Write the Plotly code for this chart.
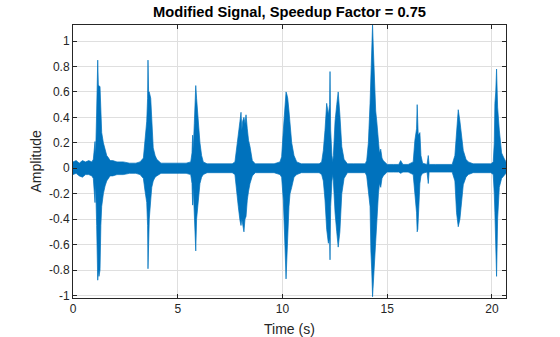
import plotly.graph_objects as go

# Envelope of the waveform: time (s), upper and lower amplitude
time_s = [
    0.00, 0.15, 0.30, 0.45, 0.60, 0.75, 0.90,
    0.97, 1.05, 1.08, 1.13, 1.18, 1.21, 1.24, 1.29, 1.33, 1.37, 1.45, 1.53, 1.61, 1.70, 1.77,
    1.90, 2.10, 2.40, 2.70, 3.00, 3.20,
    3.36, 3.44, 3.52, 3.56, 3.58, 3.61, 3.64, 3.71, 3.76, 3.83, 3.92, 4.00,
    4.20, 4.50, 4.80, 5.10, 5.40,
    5.62, 5.68, 5.71, 5.74, 5.79, 5.83, 5.86, 5.90, 5.98, 6.06, 6.14, 6.22,
    6.40, 6.70, 7.00, 7.30, 7.60,
    7.73, 7.81, 7.89, 7.97, 8.02, 8.06, 8.10, 8.16, 8.21, 8.26, 8.32, 8.38, 8.45, 8.56,
    8.70, 9.00, 9.30, 9.60,
    9.88, 9.96, 10.04, 10.12, 10.17, 10.21, 10.25, 10.31, 10.36, 10.44, 10.55, 10.68,
    10.90, 11.20, 11.50, 11.75,
    11.87, 11.95, 12.03, 12.11, 12.19, 12.25, 12.27, 12.30, 12.36, 12.40, 12.43, 12.51, 12.59, 12.66, 12.74, 12.83, 12.94,
    13.10, 13.40, 13.70, 13.95,
    14.02, 14.10, 14.18, 14.22, 14.26, 14.30, 14.34, 14.37, 14.42, 14.45, 14.50, 14.58, 14.63, 14.69, 14.75, 14.81,
    15.00, 15.30, 15.55, 15.64, 15.75, 16.00,
    16.24, 16.32, 16.40, 16.43, 16.46, 16.48, 16.56, 16.61, 16.69,
    16.90, 16.96, 17.00,
    17.30, 17.60, 17.90, 18.10,
    18.23, 18.31, 18.39, 18.47, 18.55, 18.63, 18.76, 18.87,
    19.10, 19.40, 19.70, 19.95,
    20.06, 20.11, 20.14, 20.18, 20.22, 20.27, 20.35, 20.46, 20.57, 20.67,
]
upper = [
    0.05, 0.06, 0.04, 0.06, 0.05, 0.06, 0.05,
    0.07, 0.21, 0.10, 0.45, 0.85, 0.65, 0.65, 0.64, 0.40, 0.28, 0.20, 0.14, 0.10, 0.08, 0.06,
    0.06, 0.05, 0.05, 0.04, 0.04, 0.05,
    0.08, 0.20, 0.37, 0.55, 0.85, 0.60, 0.60, 0.55, 0.37, 0.16, 0.10, 0.07,
    0.04, 0.04, 0.04, 0.04, 0.04,
    0.05, 0.12, 0.26, 0.15, 0.35, 0.58, 0.65, 0.55, 0.34, 0.20, 0.10, 0.05,
    0.035, 0.035, 0.035, 0.035, 0.035,
    0.05, 0.17, 0.30, 0.37, 0.44, 0.30, 0.37, 0.40, 0.35, 0.42, 0.31, 0.22, 0.17, 0.06,
    0.035, 0.035, 0.035, 0.035,
    0.05, 0.09, 0.30, 0.54, 0.60, 0.58, 0.55, 0.45, 0.37, 0.20, 0.10, 0.05,
    0.035, 0.035, 0.035, 0.035,
    0.05, 0.14, 0.30, 0.51, 0.42, 0.50, 0.76, 0.30, 0.10, 0.05, 0.10, 0.37, 0.50, 0.60, 0.42, 0.17, 0.07,
    0.035, 0.035, 0.035, 0.035,
    0.06, 0.20, 0.51, 0.70, 0.90, 1.13, 0.93, 0.75, 0.61, 0.45, 0.37, 0.17, 0.12, 0.15, 0.08, 0.06,
    0.03, 0.03, 0.03, 0.06, 0.03, 0.03,
    0.05, 0.22, 0.31, 0.50, 0.30, 0.26, 0.28, 0.10, 0.04,
    0.03, 0.10, 0.03,
    0.03, 0.03, 0.03, 0.03,
    0.10, 0.30, 0.46, 0.37, 0.25, 0.14, 0.07, 0.05,
    0.035, 0.035, 0.035, 0.035,
    0.05, 0.20, 0.51, 0.60, 0.78, 0.48, 0.30, 0.12, 0.08, 0.05,
]
lower = [
    -0.05, -0.04, -0.06, -0.07, -0.05, -0.05, -0.06,
    -0.08, -0.27, -0.12, -0.45, -0.88, -0.80, -0.85, -0.80, -0.45, -0.30, -0.20, -0.14, -0.10, -0.08, -0.06,
    -0.06, -0.05, -0.05, -0.04, -0.04, -0.05,
    -0.08, -0.18, -0.27, -0.45, -0.79, -0.60, -0.40, -0.25, -0.15, -0.10, -0.07, -0.06,
    -0.04, -0.04, -0.04, -0.04, -0.04,
    -0.05, -0.12, -0.29, -0.15, -0.40, -0.50, -0.65, -0.40, -0.25, -0.12, -0.07, -0.05,
    -0.035, -0.035, -0.035, -0.035, -0.035,
    -0.05, -0.15, -0.30, -0.41, -0.45, -0.40, -0.41, -0.50, -0.40, -0.38, -0.25, -0.18, -0.12, -0.06,
    -0.035, -0.035, -0.035, -0.035,
    -0.05, -0.07, -0.25, -0.62, -0.87, -0.70, -0.55, -0.30, -0.20, -0.15, -0.07, -0.05,
    -0.035, -0.035, -0.035, -0.035,
    -0.05, -0.10, -0.25, -0.48, -0.59, -0.55, -0.72, -0.30, -0.10, -0.05, -0.10, -0.35, -0.50, -0.62, -0.50, -0.20, -0.08,
    -0.035, -0.035, -0.035, -0.035,
    -0.06, -0.20, -0.30, -0.65, -0.80, -1.01, -0.90, -0.83, -0.70, -0.62, -0.41, -0.20, -0.12, -0.15, -0.08, -0.06,
    -0.03, -0.03, -0.03, -0.04, -0.03, -0.03,
    -0.05, -0.20, -0.35, -0.50, -0.48, -0.45, -0.12, -0.06, -0.04,
    -0.03, -0.12, -0.03,
    -0.03, -0.03, -0.03, -0.03,
    -0.10, -0.35, -0.46, -0.40, -0.25, -0.13, -0.07, -0.05,
    -0.035, -0.035, -0.035, -0.035,
    -0.05, -0.20, -0.35, -0.50, -0.85, -0.40, -0.15, -0.08, -0.06, -0.04,
]

x_ticks = [0, 5, 10, 15, 20]
y_ticks = [-1, -0.8, -0.6, -0.4, -0.2, 0, 0.2, 0.4, 0.6, 0.8, 1]
y_tick_text = ["-1", "-0.8", "-0.6", "-0.4", "-0.2", "0", "0.2", "0.4", "0.6", "0.8", "1"]

BLUE = "#0072BD"
AX = "#262626"
FONT = "Liberation Sans, Arial, sans-serif"
W, H = 560, 337
L, R, T, B = 73, 54, 25, 39

# closed outline: upper envelope forward, lower envelope backward
poly_x = time_s + time_s[::-1]
poly_y = upper + lower[::-1]

fig = go.Figure()
fig.add_trace(go.Scatter(x=poly_x, y=poly_y, mode="lines", fill="toself", fillcolor=BLUE,
                         line=dict(color=BLUE, width=0.7), hoverinfo="skip", showlegend=False))

axis_common = dict(
    showline=True, linecolor=AX, linewidth=1, mirror="allticks",
    ticks="inside", ticklen=4, tickcolor=AX, tickwidth=1,
    showgrid=True, gridcolor="#dfdfdf", gridwidth=1, zeroline=False,
    tickfont=dict(family=FONT, size=12, color=AX), automargin=False,
)

fig.update_layout(
    width=W, height=H,
    margin=dict(l=L, r=R, t=T, b=B),
    paper_bgcolor="white", plot_bgcolor="white",
    title=dict(text="Modified Signal, Speedup Factor = 0.75", x=0.5, xref="paper",
               y=1 - 12 / H, yref="container", xanchor="center", yanchor="middle",
               font=dict(family=FONT, size=14.7, color="black", weight="bold")),
    xaxis=dict(range=[0, 20.67], tickvals=x_ticks, **axis_common),
    yaxis=dict(range=[-1.02, 1.126], tickvals=y_ticks, ticktext=y_tick_text, **axis_common),
    annotations=[
        dict(text="Time (s)", xref="paper", yref="paper", x=0.5, y=-(329 - (H - B)) / (H - T - B),
             xanchor="center", yanchor="middle", showarrow=False,
             font=dict(family=FONT, size=14, color=AX)),
        dict(text="Amplitude", xref="paper", yref="paper", x=-(L - 35) / (W - L - R), y=0.5,
             xanchor="center", yanchor="middle", textangle=-90, showarrow=False,
             font=dict(family=FONT, size=14, color=AX)),
    ],
)

fig.write_html("out.html")
